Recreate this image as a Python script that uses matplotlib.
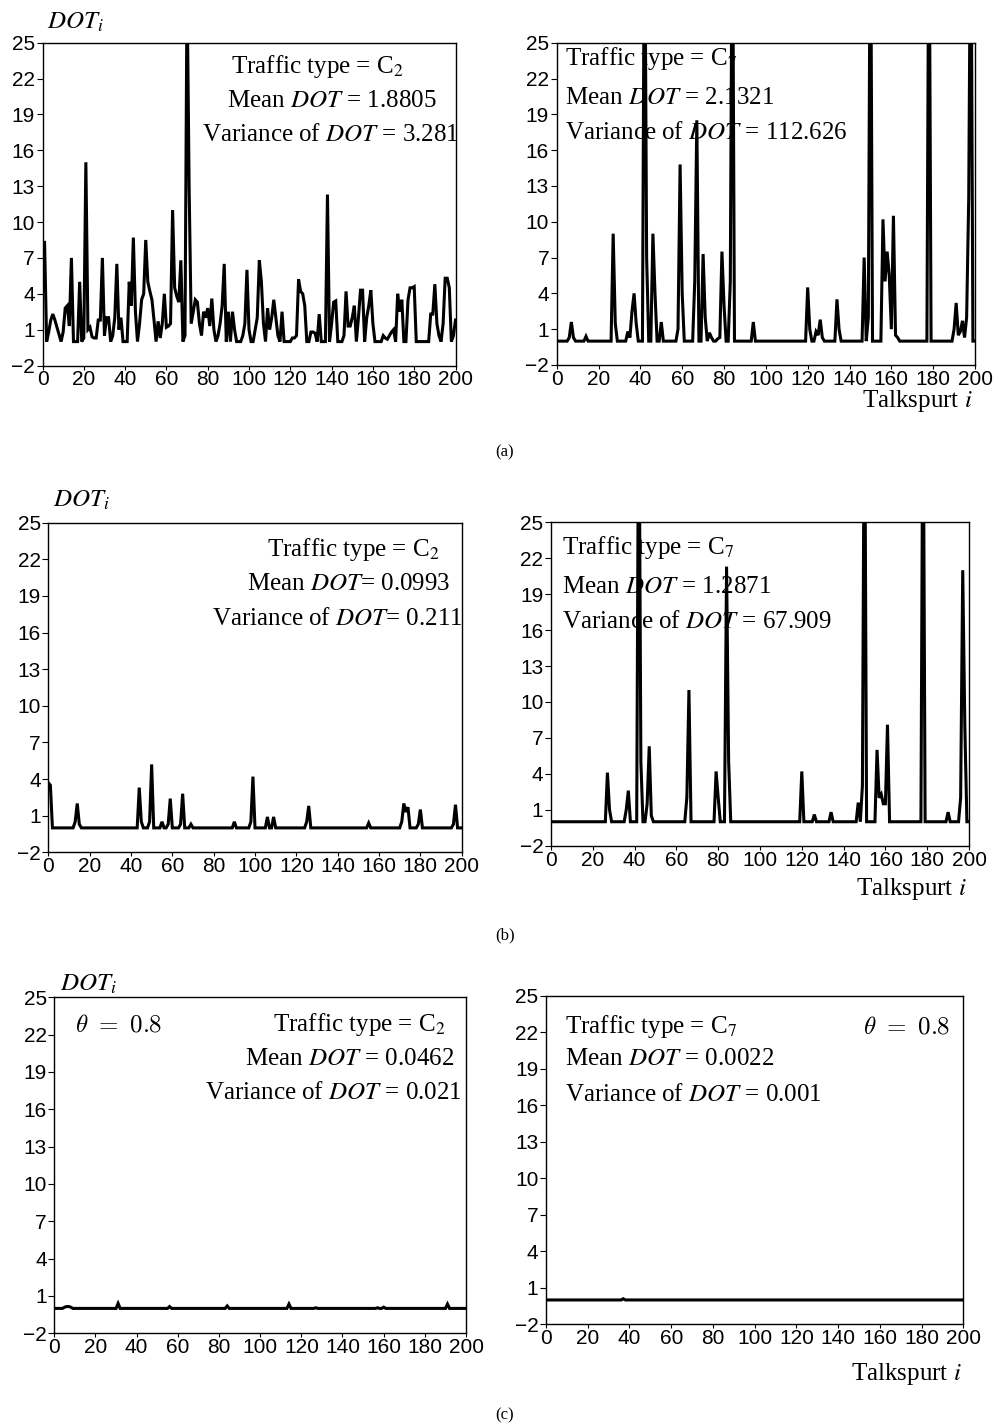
import numpy as np
import matplotlib
matplotlib.use("Agg")
import matplotlib.pyplot as plt

W, H = 997, 1427
talkspurt = np.arange(0, 201)

# ---------------- data (DOT_i per talkspurt) ----------------
a_left = [
    8.3, 8.3, 0, 0.8, 1.8, 2.3, 1.8, 1.2, 0.6, 0,
    0.8, 2.8, 3.0, 1.3, 7.0, 0, 0, 0, 5.0, 0,
    0.3, 15.0, 1.0, 1.2, 0.4, 0.3, 0.3, 1.8, 1.8, 7.0,
    0.5, 2.0, 2.0, 0, 0.5, 2.0, 6.5, 1.0, 2.0, 0,
    0, 0, 5.0, 3.0, 8.7, 2.5, 0, 1.5, 3.5, 4.0,
    8.5, 5.0, 4.2, 3.5, 1.8, 0, 1.7, 0.3, 1.5, 4.0,
    1.2, 1.3, 1.5, 11.0, 4.5, 3.8, 3.3, 6.8, 0, 0.5,
    30.0, 13.0, 1.5, 2.5, 3.5, 3.3, 1.5, 0.5, 2.5, 2.0,
    2.8, 1.3, 3.6, 1.0, 0, 0.5, 1.5, 3.0, 6.5, 0,
    2.5, 0, 2.5, 1.0, 0, 0, 0, 0.5, 1.5, 6.0,
    1.0, 0, 0, 1.0, 2.0, 6.8, 5.0, 1.5, 0, 2.8,
    1.0, 2.0, 3.5, 2.0, 0.5, 0, 2.5, 0, 0, 0,
    0, 0.3, 0.3, 0.5, 5.2, 4.2, 4.0, 3.0, 0, 0,
    0.8, 0.8, 0.7, 0, 2.3, 0, 0, 0, 12.3, 0,
    1.5, 3.3, 3.4, 0, 0, 0, 0.5, 4.2, 1.3, 1.3,
    2.0, 3.0, 0, 2.0, 4.3, 4.3, 0, 2.0, 3.0, 4.3,
    1.5, 0, 0, 0, 0, 0.5, 0.3, 0.2, 0.5, 0.8,
    1.0, 0, 4.0, 2.5, 3.5, 0, 0, 3.5, 4.5, 4.5,
    4.6, 0, 0, 0, 0, 0, 0, 0, 2.3, 2.3,
    4.8, 1.5, 0.5, 0, 1.5, 5.3, 5.3, 4.5, 0, 0.5,
    1.8,
]

a_right_idx = [6, 7, 8, 14, 27, 28, 34, 35, 36, 37, 38, 42, 43, 46, 47, 50,
               58, 59, 60, 66, 67, 70, 71, 73, 74, 77, 78, 79, 80, 83, 84, 94,
               120, 121, 124, 125, 126, 127, 134, 135, 147, 149, 150, 156, 157,
               158, 159, 160, 161, 162, 163, 178, 190, 191, 192, 193, 194, 195,
               196, 197, 198]
a_right_val = [0.3, 1.6, 0.3, 0.4, 9.0, 1.5, 0.8, 0.3, 2.5, 4.0, 1.5, 40, 7.0,
               9.0, 4.0, 1.6, 1.0, 14.8, 4.0, 5.0, 18.5, 7.3, 2.0, 0.7, 0.3, 0.2,
               0.3, 7.5, 3.0, 5.0, 40, 1.6, 4.5, 1.0, 0.8, 0.5, 1.8, 0.3, 3.5,
               1.0, 7.0, 2.0, 40, 10.2, 5.0, 7.5, 5.5, 1.0, 10.5, 0.5, 0.3, 40,
               1.0, 3.2, 0.5, 0.8, 1.7, 0.3, 2.0, 12.0, 40]

b_left_idx = [0, 1, 13, 14, 15, 44, 45, 49, 50, 55, 58, 59, 64, 65, 69, 90,
              98, 99, 106, 109, 125, 126, 155, 171, 172, 173, 174, 179, 180,
              196, 197]
b_left_val = [3.7, 3.5, 0.5, 2.0, 0.3, 3.3, 0.5, 0.5, 5.2, 0.5, 0.3, 2.4, 0.3,
              2.8, 0.3, 0.5, 0.5, 4.2, 0.9, 0.9, 0.5, 1.8, 0.4, 0.5, 2.0, 1.3,
              1.7, 0.3, 1.5, 0.3, 1.9]

b_right_idx = [27, 28, 36, 37, 42, 43, 46, 47, 48, 65, 66, 79, 80, 84, 85, 120,
               126, 134, 147, 149, 150, 156, 157, 158, 159, 160, 161, 178, 190,
               196, 197, 198]
b_right_val = [4.1, 1.0, 1.0, 2.6, 40, 5.0, 1.5, 6.3, 0.5, 2.0, 11.0, 4.2, 2.0,
               21.3, 5.0, 4.2, 0.6, 0.8, 1.6, 3.0, 40, 6.0, 2.0, 2.3, 1.5, 1.5,
               8.1, 40, 0.8, 2.0, 21.0, 8.0]

c_left_idx = [5, 6, 7, 8, 31, 56, 84, 114, 127, 157, 160, 191]
c_left_val = [0.1, 0.15, 0.15, 0.1, 0.4, 0.15, 0.2, 0.35, 0.05, 0.05, 0.1, 0.35]

c_right_idx = [37]
c_right_val = [0.1]

y_ticks = [-2, 1, 4, 7, 10, 13, 16, 19, 22, 25]
x_ticks = list(range(0, 201, 20))


def series(idx, val):
    s = np.zeros(len(talkspurt))
    s[idx] = val
    return s


# ---------------- figure ----------------
fig = plt.figure(figsize=(W / 100, H / 100), dpi=100)
SERIF = "Liberation Serif"
SANS = "Liberation Sans"


def px_axes(x0, x1, ytop, ybot):
    return fig.add_axes([x0 / W, 1 - ybot / H, (x1 - x0) / W, (ybot - ytop) / H])


def style(ax):
    ax.set_xlim(0, 200)
    ax.set_ylim(-2, 25)
    ax.set_yticks(y_ticks)
    ax.set_xticks(x_ticks)
    for sp in ax.spines.values():
        sp.set_linewidth(1.0)
    ax.tick_params(axis="y", direction="out", length=4, width=0.8, pad=1.5,
                   labelsize=15)
    ax.tick_params(axis="x", direction="out", length=3, width=0.8, pad=0.5,
                   labelsize=15)
    for lab in ax.get_xticklabels() + ax.get_yticklabels():
        lab.set_fontfamily(SANS)


def ftext(ax, x, y, s, ha="left", size=18, **kw):
    ax.text(x / W, 1 - y / H, s, transform=fig.transFigure, ha=ha, va="center",
            fontsize=size, family=SERIF, math_fontfamily="stix", zorder=3, **kw)


panels = [
    (a_left_ax := px_axes(42.5, 455.5, 42.7, 365.5), np.array(a_left)),
    (a_right_ax := px_axes(556.7, 975, 42.7, 365), series(a_right_idx, a_right_val)),
    (b_left_ax := px_axes(48.3, 461.7, 522.7, 852.3), series(b_left_idx, b_left_val)),
    (b_right_ax := px_axes(551, 969, 522.3, 845.7), series(b_right_idx, b_right_val)),
    (c_left_ax := px_axes(54.3, 466, 997.3, 1333.3), series(c_left_idx, c_left_val)),
    (c_right_ax := px_axes(546, 963.3, 995.7, 1324.3), series(c_right_idx, c_right_val)),
]

for ax, y in panels:
    style(ax)
    ax.plot(talkspurt, y, color="black", lw=2.2, zorder=4,
            solid_joinstyle="miter")

# ---- (a) ----
ftext(a_left_ax, 47, 22, r"$DOT_i$")
ftext(a_left_ax, 231, 67, r"Traffic type = C$_{\mathrm{2}}$")
ftext(a_left_ax, 227, 101, r"Mean $DOT$ = 1.8805")
ftext(a_left_ax, 202, 135, r"Variance of $DOT$ = 3.281")

ftext(a_right_ax, 565, 59, r"Traffic type = C$_{\mathrm{7}}$")
ftext(a_right_ax, 565, 98, r"Mean $DOT$ = 2.1321")
ftext(a_right_ax, 565, 133, r"Variance of $DOT$ = 112.626")
ftext(a_right_ax, 973, 401, r"Talkspurt $i$", ha="right")

# ---- (b) ----
ftext(b_left_ax, 53, 500, r"$DOT_i$")
ftext(b_left_ax, 267, 550, r"Traffic type = C$_{\mathrm{2}}$")
ftext(b_left_ax, 247, 584, r"Mean $DOT$= 0.0993")
ftext(b_left_ax, 212, 619, r"Variance of $DOT$= 0.211")

ftext(b_right_ax, 562, 548, r"Traffic type = C$_{\mathrm{7}}$")
ftext(b_right_ax, 562, 587, r"Mean $DOT$ = 1.2871")
ftext(b_right_ax, 562, 622, r"Variance of $DOT$ = 67.909")
ftext(b_right_ax, 967, 889, r"Talkspurt $i$", ha="right")

# ---- (c) ----
ftext(c_left_ax, 60, 984, r"$DOT_i$")
c_left_ax.text(75 / W, 1 - 1024 / H, r"$\theta\ =\ 0.8$", transform=fig.transFigure,
               ha="left", va="center", fontsize=18, math_fontfamily="cm")
ftext(c_left_ax, 273, 1024, r"Traffic type = C$_{\mathrm{2}}$")
ftext(c_left_ax, 245, 1059, r"Mean $DOT$ = 0.0462")
ftext(c_left_ax, 205, 1093, r"Variance of $DOT$ = 0.021")

ftext(c_right_ax, 565, 1027, r"Traffic type = C$_{\mathrm{7}}$")
c_right_ax.text(863 / W, 1 - 1027 / H, r"$\theta\ =\ 0.8$", transform=fig.transFigure,
                ha="left", va="center", fontsize=18, math_fontfamily="cm")
ftext(c_right_ax, 565, 1059, r"Mean $DOT$ = 0.0022")
ftext(c_right_ax, 565, 1095, r"Variance of $DOT$ = 0.001")
ftext(c_right_ax, 962, 1374, r"Talkspurt $i$", ha="right")

# captions
for cap, yy in [("(a)", 452), ("(b)", 935), ("(c)", 1415)]:
    fig.text(505 / W, 1 - yy / H, cap, ha="center", va="center", fontsize=12,
             family=SERIF)

fig.savefig("out.png", dpi=100)
